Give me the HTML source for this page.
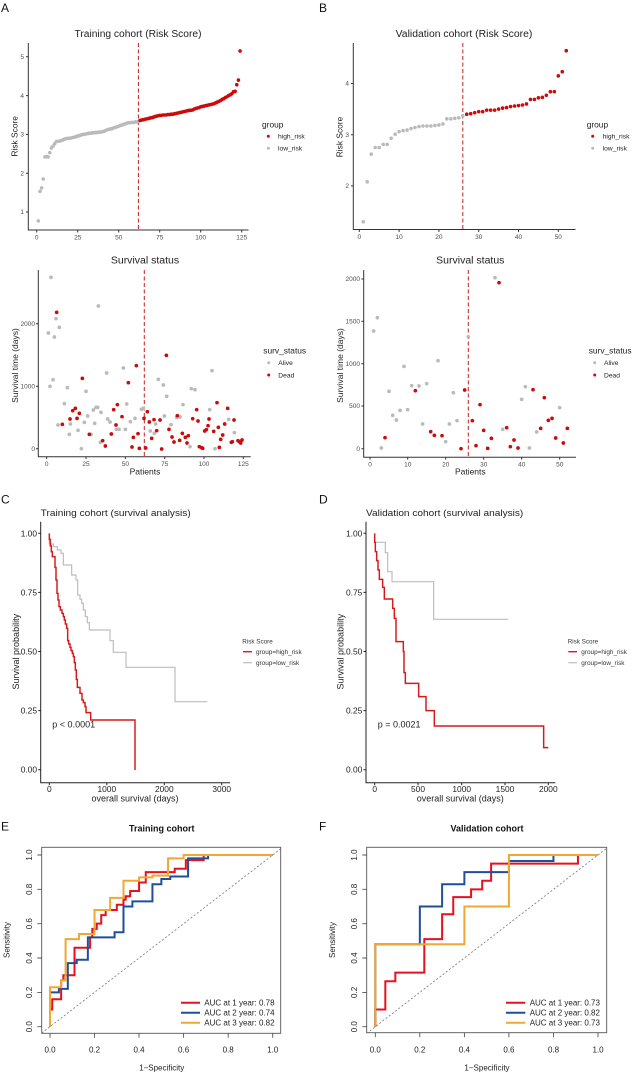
<!DOCTYPE html>
<html><head><meta charset="utf-8"><style>
html,body{margin:0;padding:0;background:#fff;}
svg{display:block;font-family:"Liberation Sans",Arial,sans-serif;}
.tk{font-size:6.5px;fill:#4d4d4d;}
.tl{font-size:8.4px;fill:#222;}
.kt{font-size:8.4px;fill:#222;}
.rt{font-size:8px;fill:#222;}
.lg{font-size:6.7px;fill:#222;}
.lab{font-size:12px;fill:#111;}
</style></head><body>
<svg width="636" height="1084" viewBox="0 0 636 1084" xmlns="http://www.w3.org/2000/svg">
<rect width="636" height="1084" fill="#fff"/>

<!-- ============ Panel A top ============ -->
<text class="lab" x="1" y="12">A</text>
<text x="138" y="37" text-anchor="middle" font-size="10" fill="#222" textLength="127" lengthAdjust="spacingAndGlyphs">Training cohort (Risk Score)</text>
<g stroke="#333" stroke-width="1" fill="none">
<path d="M28.3,43V230H248.5"/>
<path d="M26,56.8H28.3M26,95.6H28.3M26,134.4H28.3M26,173.2H28.3M26,212H28.3"/>
<path d="M36.7,230V232.5M77.7,230V232.5M118.7,230V232.5M159.7,230V232.5M200.7,230V232.5M241.7,230V232.5"/>
</g>
<g class="tk" text-anchor="end">
<text x="24" y="59">5</text><text x="24" y="97.8">4</text><text x="24" y="136.6">3</text><text x="24" y="175.4">2</text><text x="24" y="214.2">1</text>
</g>
<g class="tk" text-anchor="middle">
<text x="36.7" y="239.5">0</text><text x="77.7" y="239.5">25</text><text x="118.7" y="239.5">50</text><text x="159.7" y="239.5">75</text><text x="200.7" y="239.5">100</text><text x="241.7" y="239.5">125</text>
</g>
<text class="tl" transform="translate(17.5,136.3) rotate(-90)" text-anchor="middle" font-size="8.2">Risk Score</text>
<line x1="138.4" y1="43" x2="138.4" y2="230" stroke="#c81e1e" stroke-width="1" stroke-dasharray="4,2.5"/>
<g transform="matrix(1.64,0,0,-38.8,36.7,250.8)" fill="none" stroke-linecap="round">
<path vector-effect="non-scaling-stroke" stroke="#bababa" stroke-width="3.6" d="M1,.77h.001M2,1.53h.001M3,1.62h.001M4,1.85h.001M5,2.42h.001M6,2.43h.001M7,2.42h.001M8,2.53h.001M9,2.65h.001M10,2.70h.001M11,2.76h.001M12,2.82h.001M13,2.82h.001M14,2.83h.001M15,2.84h.001M16,2.86h.001M17,2.88h.001M18,2.89h.001M19,2.90h.001M20,2.90h.001M21,2.91h.001M22,2.92h.001M23,2.93h.001M24,2.94h.001M25,2.96h.001M26,2.97h.001M27,2.98h.001M28,3.00h.001M29,3.00h.001M30,3.01h.001M31,3.02h.001M32,3.03h.001M33,3.03h.001M34,3.04h.001M35,3.04h.001M36,3.05h.001M37,3.05h.001M38,3.06h.001M39,3.06h.001M40,3.07h.001M41,3.08h.001M42,3.10h.001M43,3.12h.001M44,3.13h.001M45,3.14h.001M46,3.15h.001M47,3.17h.001M48,3.18h.001M49,3.20h.001M50,3.21h.001M51,3.23h.001M52,3.24h.001M53,3.26h.001M54,3.27h.001M55,3.29h.001M56,3.30h.001M57,3.30h.001M58,3.31h.001M59,3.31h.001M60,3.32h.001M61,3.32h.001M62,3.33h.001"/>
<path vector-effect="non-scaling-stroke" stroke="#cc0a0a" stroke-width="3.6" d="M63,3.36h.001M64,3.37h.001M65,3.38h.001M66,3.39h.001M67,3.40h.001M68,3.41h.001M69,3.42h.001M70,3.43h.001M71,3.44h.001M72,3.46h.001M73,3.47h.001M74,3.48h.001M75,3.49h.001M76,3.49h.001M77,3.50h.001M78,3.50h.001M79,3.50h.001M80,3.51h.001M81,3.51h.001M82,3.52h.001M83,3.52h.001M84,3.53h.001M85,3.54h.001M86,3.55h.001M87,3.56h.001M88,3.57h.001M89,3.58h.001M90,3.59h.001M91,3.60h.001M92,3.61h.001M93,3.62h.001M94,3.62h.001M95,3.63h.001M96,3.65h.001M97,3.67h.001M98,3.68h.001M99,3.69h.001M100,3.71h.001M101,3.72h.001M102,3.73h.001M103,3.74h.001M104,3.75h.001M105,3.76h.001M106,3.77h.001M107,3.78h.001M108,3.79h.001M109,3.81h.001M110,3.83h.001M111,3.85h.001M112,3.87h.001M113,3.90h.001M114,3.92h.001M115,3.95h.001M116,3.97h.001M117,4.00h.001M118,4.02h.001M119,4.05h.001M120,4.10h.001M121,4.11h.001M122,4.28h.001M123,4.40h.001M124,5.15h.001"/>
</g>
<text x="262" y="127.5" font-size="8.4" fill="#222">group</text>
<circle cx="268.3" cy="136.2" r="1.5" fill="#cc0a0a"/><circle cx="268.3" cy="148.2" r="1.5" fill="#bababa"/>
<text class="lg" x="278" y="138.6">high_risk</text><text class="lg" x="278" y="150.6">low_risk</text>

<!-- ============ Panel B top ============ -->
<text class="lab" x="319" y="12">B</text>
<text x="464" y="37" text-anchor="middle" font-size="10" fill="#222" textLength="136.7" lengthAdjust="spacingAndGlyphs">Validation cohort (Risk Score)</text>
<g stroke="#333" stroke-width="1" fill="none">
<path d="M353.3,43V229.5H575.5"/>
<path d="M351,83.5H353.3M351,134.7H353.3M351,185.9H353.3"/>
<path d="M359.3,229.5V232M399.1,229.5V232M438.9,229.5V232M478.7,229.5V232M518.5,229.5V232M558.3,229.5V232"/>
</g>
<g class="tk" text-anchor="end">
<text x="349" y="85.7">4</text><text x="349" y="136.9">3</text><text x="349" y="188.1">2</text>
</g>
<g class="tk" text-anchor="middle">
<text x="359.3" y="239">0</text><text x="399.1" y="239">10</text><text x="438.9" y="239">20</text><text x="478.7" y="239">30</text><text x="518.5" y="239">40</text><text x="558.3" y="239">50</text>
</g>
<text class="tl" transform="translate(342.5,137) rotate(-90)" text-anchor="middle" font-size="8.2">Risk Score</text>
<line x1="462.8" y1="43" x2="462.8" y2="229.5" stroke="#c81e1e" stroke-width="1" stroke-dasharray="4,2.5"/>
<g transform="matrix(3.98,0,0,-51.2,359.3,288.3)" fill="none" stroke-linecap="round">
<path vector-effect="non-scaling-stroke" stroke="#bababa" stroke-width="3.6" d="M1,1.30h.001M2,2.08h.001M3,2.62h.001M4,2.75h.001M5,2.75h.001M6,2.81h.001M7,2.81h.001M8,2.93h.001M9,3.01h.001M10,3.06h.001M11,3.08h.001M12,3.09h.001M13,3.12h.001M14,3.14h.001M15,3.16h.001M16,3.17h.001M17,3.17h.001M18,3.17h.001M19,3.18h.001M20,3.19h.001M21,3.21h.001M22,3.31h.001M23,3.31h.001M24,3.32h.001M25,3.33h.001M26,3.37h.001"/>
<path vector-effect="non-scaling-stroke" stroke="#cc0a0a" stroke-width="3.6" d="M27,3.40h.001M28,3.41h.001M29,3.43h.001M30,3.45h.001M31,3.45h.001M32,3.48h.001M33,3.48h.001M34,3.48h.001M35,3.50h.001M36,3.52h.001M37,3.53h.001M38,3.55h.001M39,3.56h.001M40,3.57h.001M41,3.58h.001M42,3.60h.001M43,3.69h.001M44,3.69h.001M45,3.72h.001M46,3.73h.001M47,3.77h.001M48,3.84h.001M49,3.84h.001M50,4.15h.001M51,4.23h.001M52,4.64h.001"/>
</g>
<text x="586.7" y="127.5" font-size="8.4" fill="#222">group</text>
<circle cx="592.7" cy="136.2" r="1.5" fill="#cc0a0a"/><circle cx="592.7" cy="148.2" r="1.5" fill="#bababa"/>
<text class="lg" x="602.7" y="138.6">high_risk</text><text class="lg" x="602.7" y="150.6">low_risk</text>

<!-- ============ Panel A bottom ============ -->
<text x="145" y="263.5" text-anchor="middle" font-size="10" fill="#222" textLength="68.3" lengthAdjust="spacingAndGlyphs">Survival status</text>
<g stroke="#333" stroke-width="1" fill="none">
<path d="M38.3,270V456.7H250.7"/>
<path d="M36,448.7H38.3M36,386.2H38.3M36,323.7H38.3"/>
<path d="M46.7,456.7V459M86,456.7V459M125.4,456.7V459M164.7,456.7V459M204,456.7V459M243.3,456.7V459"/>
</g>
<g class="tk" text-anchor="end">
<text x="35" y="450.9">0</text><text x="35" y="388.4">1000</text><text x="35" y="325.9">2000</text>
</g>
<g class="tk" text-anchor="middle">
<text x="46.7" y="466">0</text><text x="86" y="466">25</text><text x="125.4" y="466">50</text><text x="164.7" y="466">75</text><text x="204" y="466">100</text><text x="243.3" y="466">125</text>
</g>
<text x="145" y="474.5" text-anchor="middle" font-size="8.5" fill="#222">Patients</text>
<text transform="translate(17.8,365.5) rotate(-90)" text-anchor="middle" font-size="8.5" fill="#222">Survival time (days)</text>
<line x1="144.3" y1="270" x2="144.3" y2="456.7" stroke="#c81e1e" stroke-width="1" stroke-dasharray="4,2.5"/>
<g transform="translate(0,240) scale(0.333333)" fill="none" stroke-linecap="round" stroke-width="11">
<path stroke="#bababa" d="M153,112h.1M145,279h.1M163,291h.1M168,236h.1M178,262h.1M150,439h.1M159,419h.1M193,491h.1M202,443h.1M174,555h.1M208,583h.1M211,552h.1M234,571h.1M244,626h.1M253,547h.1M258,454h.1M263,528h.1M273,583h.1M280,510h.1M284,550h.1M288,502h.1M293,502h.1M295,198h.1M303,517h.1M301,607h.1M320,399h.1M323,537h.1M330,546h.1M349,568h.1M357,568h.1M370,384h.1M376,568h.1M380,492h.1M391,545h.1M405,535h.1M424,508h.1M430,505h.1M451,573h.1M463,580h.1M467,552h.1M475,418h.1M490,435h.1M493,528h.1M500,469h.1M513,554h.1M530,532h.1M540,531h.1M549,494h.1M570,620h.1M574,446h.1M585,449h.1M629,509h.1M636,392h.1M645,626h.1M686,538h.1M703,578h.1"/>
<path stroke="#cc0a0a" d="M170,217h.1M187,553h.1M210,537h.1M218,512h.1M226,505h.1M231,535h.1M238,520h.1M247,415h.1M268,583h.1M308,602h.1M316,618h.1M334,582h.1M341,509h.1M348,555h.1M352,494h.1M366,530h.1M385,428h.1M396,621h.1M400,592h.1M409,377h.1M414,581h.1M418,625h.1M432,535h.1M437,624h.1M442,515h.1M448,546h.1M455,595h.1M462,539h.1M470,572h.1M480,540h.1M485,627h.1M499,346h.1M507,568h.1M516,591h.1M522,606h.1M532,527h.1M539,601h.1M547,580h.1M556,592h.1M561,609h.1M565,587h.1M578,536h.1M590,509h.1M594,543h.1M598,620h.1M605,623h.1M608,625h.1M614,573h.1M619,569h.1M624,557h.1M627,537h.1M641,574h.1M651,488h.1M655,562h.1M658,622h.1M662,598h.1M668,585h.1M674,552h.1M683,505h.1M694,607h.1M697,605h.1M702,540h.1M714,602h.1M719,606h.1M722,609h.1M726,600h.1"/>
</g>
<text x="263.3" y="353.5" font-size="8.4" fill="#222">surv_status</text>
<circle cx="268.7" cy="362.7" r="1.5" fill="#bababa"/><circle cx="268.7" cy="375" r="1.5" fill="#cc0a0a"/>
<text class="lg" x="278.3" y="365.1">Alive</text><text class="lg" x="278.3" y="377.4">Dead</text>

<!-- ============ Panel B bottom ============ -->
<text x="470.3" y="263.5" text-anchor="middle" font-size="10" fill="#222" textLength="68.3" lengthAdjust="spacingAndGlyphs">Survival status</text>
<g stroke="#333" stroke-width="1" fill="none">
<path d="M363.7,270V457.3H576"/>
<path d="M361.4,448.7H363.7M361.4,406H363.7M361.4,363.7H363.7M361.4,321.3H363.7M361.4,279H363.7"/>
<path d="M370,457.3V459.6M407.7,457.3V459.6M445.7,457.3V459.6M483.7,457.3V459.6M521.7,457.3V459.6M559.7,457.3V459.6"/>
</g>
<g class="tk" text-anchor="end">
<text x="360" y="450.9">0</text><text x="360" y="408.2">500</text><text x="360" y="365.9">1000</text><text x="360" y="323.5">1500</text><text x="360" y="281.2">2000</text>
</g>
<g class="tk" text-anchor="middle">
<text x="370" y="466.5">0</text><text x="407.7" y="466.5">10</text><text x="445.7" y="466.5">20</text><text x="483.7" y="466.5">30</text><text x="521.7" y="466.5">40</text><text x="559.7" y="466.5">50</text>
</g>
<text x="470.3" y="474.5" text-anchor="middle" font-size="8.5" fill="#222">Patients</text>
<text transform="translate(342.8,365.5) rotate(-90)" text-anchor="middle" font-size="8.5" fill="#222">Survival time (days)</text>
<line x1="468.3" y1="270" x2="468.3" y2="457.3" stroke="#c81e1e" stroke-width="1" stroke-dasharray="4,2.5"/>
<g transform="translate(316,240) scale(0.333333)" fill="none" stroke-linecap="round" stroke-width="11">
<path stroke="#bababa" d="M173,273h.1M184,233h.1M196,624h.1M219,454h.1M230,526h.1M241,540h.1M252,511h.1M264,379h.1M275,509h.1M287,437h.1M309,438h.1M320,552h.1M332,431h.1M366,362h.1M389,605h.1M400,552h.1M412,458h.1M423,542h.1M457,290h.1M537,113h.1M560,568h.1M617,478h.1M628,440h.1M640,624h.1M662,576h.1M731,503h.1"/>
<path stroke="#cc0a0a" d="M207,593h.1M298,452h.1M344,575h.1M355,586h.1M378,587h.1M435,626h.1M446,450h.1M469,542h.1M480,617h.1M492,494h.1M503,571h.1M515,625h.1M526,595h.1M549,128h.1M572,563h.1M583,620h.1M594,600h.1M606,624h.1M651,449h.1M674,565h.1M685,473h.1M697,541h.1M708,535h.1M719,594h.1M742,609h.1M754,565h.1"/>
</g>
<text x="588.7" y="353.5" font-size="8.4" fill="#222">surv_status</text>
<circle cx="594.7" cy="362.7" r="1.5" fill="#bababa"/><circle cx="594.7" cy="375" r="1.5" fill="#cc0a0a"/>
<text class="lg" x="604" y="365.1">Alive</text><text class="lg" x="604" y="377.4">Dead</text>

<!-- ============ Panel C ============ -->
<text class="lab" x="1" y="503.5">C</text>
<text x="40.7" y="516" font-size="9.3" fill="#222" textLength="150" lengthAdjust="spacingAndGlyphs">Training cohort (survival analysis)</text>
<g stroke="#222" stroke-width="1" fill="none">
<path d="M40.7,521.7V782.7H230"/>
<path d="M38.2,533.3H40.7M38.2,592.4H40.7M38.2,651.5H40.7M38.2,710.6H40.7M38.2,769.7H40.7"/>
<path d="M49.3,782.7V785.2M106.8,782.7V785.2M164.3,782.7V785.2M221.7,782.7V785.2"/>
</g>
<g class="kt" text-anchor="end">
<text x="37" y="536.3">1.00</text><text x="37" y="595.4">0.75</text><text x="37" y="654.5">0.50</text><text x="37" y="713.6">0.25</text><text x="37" y="772.7">0.00</text>
</g>
<g class="kt" text-anchor="middle">
<text x="49.3" y="792">0</text><text x="106.8" y="792">1000</text><text x="164.3" y="792">2000</text><text x="221.7" y="792">3000</text>
</g>
<text x="135" y="801.5" text-anchor="middle" font-size="9" fill="#222">overall survival (days)</text>
<text transform="translate(19,651.7) rotate(-90)" text-anchor="middle" font-size="9" fill="#222">Survival probability</text>
<g transform="translate(0,480) scale(0.333333)" fill="none">
<path stroke="#bdbdbd" stroke-width="3.6" d="M148,160V192H160V200H172V210H183V220H190V255H215V285H228V300H233V345H240V358H245V370H250V390H256V410H262V428H268V450H330V482H340V517H378V562H525V665H622"/>
<path stroke="#d7191c" stroke-width="4.4" d="M148,160V178H151V198H154V215H157V230H165V262H168V300H171V340H174V360H177V380H181V390H186V400H190V410H193V420H196V432H200V445H203V482H206V492H210V502H213V512H217V520H220V530H223V548H226V570H229V598H232V622H240V640H246V660H250V668H255V680H258V698H272V720H405V870"/>
</g>
<text x="52.3" y="727.3" font-size="9" fill="#222">p &lt; 0.0001</text>
<text x="242.3" y="643.5" font-size="6.3" fill="#333">Risk Score</text>
<line x1="243" y1="651.7" x2="252" y2="651.7" stroke="#d7191c" stroke-width="1.4"/>
<line x1="243" y1="662.7" x2="252" y2="662.7" stroke="#bdbdbd" stroke-width="1.2"/>
<text x="256" y="654" font-size="6.4" fill="#333">group=high_risk</text>
<text x="256" y="665" font-size="6.4" fill="#333">group=low_risk</text>

<!-- ============ Panel D ============ -->
<text class="lab" x="319" y="503.5">D</text>
<text x="366" y="516" font-size="9.3" fill="#222" textLength="157.3" lengthAdjust="spacingAndGlyphs">Validation cohort (survival analysis)</text>
<g stroke="#222" stroke-width="1" fill="none">
<path d="M366,521.7V782.7H555.3"/>
<path d="M363.5,533.3H366M363.5,592.4H366M363.5,651.5H366M363.5,710.6H366M363.5,769.7H366"/>
<path d="M374.7,782.7V785.2M418,782.7V785.2M461.7,782.7V785.2M505,782.7V785.2M548.3,782.7V785.2"/>
</g>
<g class="kt" text-anchor="end">
<text x="362.3" y="536.3">1.00</text><text x="362.3" y="595.4">0.75</text><text x="362.3" y="654.5">0.50</text><text x="362.3" y="713.6">0.25</text><text x="362.3" y="772.7">0.00</text>
</g>
<g class="kt" text-anchor="middle">
<text x="374.7" y="792">0</text><text x="418" y="792">500</text><text x="461.7" y="792">1000</text><text x="505" y="792">1500</text><text x="548.3" y="792">2000</text>
</g>
<text x="460.3" y="801.5" text-anchor="middle" font-size="9" fill="#222">overall survival (days)</text>
<text transform="translate(343.5,651.7) rotate(-90)" text-anchor="middle" font-size="9" fill="#222">Survival probability</text>
<g transform="translate(316,480) scale(0.333333)" fill="none">
<path stroke="#bdbdbd" stroke-width="3.6" d="M176,160V187H208V218H215V275H228V305H353V418H577"/>
<path stroke="#d7191c" stroke-width="4.4" d="M176,160V187H178V215H182V242H186V270H190V298H200V322H205V357H230V385H235V415H240V485H262V515H264V578H268V610H308V650H330V692H355V738H683V803H697"/>
</g>
<text x="377.7" y="727.3" font-size="9" fill="#222">p = 0.0021</text>
<text x="567.7" y="643.5" font-size="6.3" fill="#333">Risk Score</text>
<line x1="568.3" y1="651.7" x2="577" y2="651.7" stroke="#d7191c" stroke-width="1.4"/>
<line x1="568.3" y1="662.7" x2="577" y2="662.7" stroke="#bdbdbd" stroke-width="1.2"/>
<text x="581.3" y="654" font-size="6.4" fill="#333">group=high_risk</text>
<text x="581.3" y="665" font-size="6.4" fill="#333">group=low_risk</text>

<!-- ============ Panel E ============ -->
<text class="lab" x="1" y="830.7">E</text>
<text x="161.7" y="831.7" text-anchor="middle" font-size="9" font-weight="bold" fill="#111">Training cohort</text>
<rect x="41.7" y="847.3" width="239" height="186" fill="none" stroke="#555" stroke-width="0.9"/>
<g stroke="#555" stroke-width="0.9" fill="none">
<path d="M50,1033.3V1037.8M94.5,1033.3V1037.8M139,1033.3V1037.8M183.6,1033.3V1037.8M228.2,1033.3V1037.8M272.7,1033.3V1037.8"/>
<path d="M37.3,1026.7H41.7M37.3,992.4H41.7M37.3,958H41.7M37.3,923.7H41.7M37.3,889.3H41.7M37.3,855H41.7"/>
</g>
<g class="rt" text-anchor="middle" fill="#333">
<text x="50" y="1052.3">0.0</text><text x="94.5" y="1052.3">0.2</text><text x="139" y="1052.3">0.4</text><text x="183.6" y="1052.3">0.6</text><text x="228.2" y="1052.3">0.8</text><text x="272.7" y="1052.3">1.0</text>
<text transform="translate(32,1026.7) rotate(-90)">0.0</text><text transform="translate(32,992.4) rotate(-90)">0.2</text><text transform="translate(32,958) rotate(-90)">0.4</text><text transform="translate(32,923.7) rotate(-90)">0.6</text><text transform="translate(32,889.3) rotate(-90)">0.8</text><text transform="translate(32,855) rotate(-90)">1.0</text>
</g>
<text class="rt" x="161.7" y="1070.5" text-anchor="middle">1−Specificity</text>
<text class="rt" transform="translate(9.5,940) rotate(-90)" text-anchor="middle">Sensitivity</text>
<line x1="41.7" y1="1033.1" x2="280.7" y2="848.8" stroke="#777" stroke-width="0.8" stroke-dasharray="2,2"/>
<g transform="matrix(222.7,0,0,-171.7,50,1026.7)" fill="none" stroke-width="2">
<path vector-effect="non-scaling-stroke" stroke="#e8101e" d="M0,0V.1H.01V.16H.05V.27H.06V.3H.11V.46H.18V.52H.19V.57H.21V.6H.23V.65H.25V.68H.3V.71H.33V.74H.34V.76H.36V.79H.4V.84H.43V.9H.56V.92H.61V.97H.69V1H1"/>
<path vector-effect="non-scaling-stroke" stroke="#1f4e9a" d="M0,0V.2H.04V.22H.08V.37H.12V.39H.17V.52H.29V.55H.33V.7H.37V.73H.46V.83H.5V.86H.54V.875H.62V.98H.71V1H1"/>
<path vector-effect="non-scaling-stroke" stroke="#f0a830" d="M0,0V.23H.05V.27H.07V.51H.13V.54H.2V.68H.27V.75H.33V.85H.4V.87H.46V.88H.53V.98H.6V1H1"/>
</g>
<line x1="181" y1="1002.7" x2="200" y2="1002.7" stroke="#e8101e" stroke-width="2"/>
<line x1="181" y1="1012.7" x2="200" y2="1012.7" stroke="#1f4e9a" stroke-width="2"/>
<line x1="181" y1="1022.7" x2="200" y2="1022.7" stroke="#f0a830" stroke-width="2"/>
<text class="rt" x="204.3" y="1005.5">AUC at 1 year: 0.78</text>
<text class="rt" x="204.3" y="1015.5">AUC at 2 year: 0.74</text>
<text class="rt" x="204.3" y="1025.5">AUC at 3 year: 0.82</text>

<!-- ============ Panel F ============ -->
<text class="lab" x="319" y="830.7">F</text>
<text x="487" y="831.7" text-anchor="middle" font-size="9" font-weight="bold" fill="#111">Validation cohort</text>
<rect x="366.7" y="847.3" width="240" height="185.4" fill="none" stroke="#555" stroke-width="0.9"/>
<g stroke="#555" stroke-width="0.9" fill="none">
<path d="M375.3,1032.7V1037.2M419.8,1032.7V1037.2M464.4,1032.7V1037.2M508.9,1032.7V1037.2M553.5,1032.7V1037.2M598,1032.7V1037.2"/>
<path d="M362.3,1026.7H366.7M362.3,992.4H366.7M362.3,958H366.7M362.3,923.7H366.7M362.3,889.3H366.7M362.3,855H366.7"/>
</g>
<g class="rt" text-anchor="middle" fill="#333">
<text x="375.3" y="1052.3">0.0</text><text x="419.8" y="1052.3">0.2</text><text x="464.4" y="1052.3">0.4</text><text x="508.9" y="1052.3">0.6</text><text x="553.5" y="1052.3">0.8</text><text x="598" y="1052.3">1.0</text>
<text transform="translate(356.8,1026.7) rotate(-90)">0.0</text><text transform="translate(356.8,992.4) rotate(-90)">0.2</text><text transform="translate(356.8,958) rotate(-90)">0.4</text><text transform="translate(356.8,923.7) rotate(-90)">0.6</text><text transform="translate(356.8,889.3) rotate(-90)">0.8</text><text transform="translate(356.8,855) rotate(-90)">1.0</text>
</g>
<text class="rt" x="487" y="1070.5" text-anchor="middle">1−Specificity</text>
<text class="rt" transform="translate(335,940) rotate(-90)" text-anchor="middle">Sensitivity</text>
<line x1="366.7" y1="1033.3" x2="606.7" y2="848.3" stroke="#777" stroke-width="0.8" stroke-dasharray="2,2"/>
<g transform="matrix(222.7,0,0,-171.7,375.3,1026.7)" fill="none" stroke-width="2">
<path vector-effect="non-scaling-stroke" stroke="#e8101e" d="M0,0V.1H.045V.265H.09V.315H.22V.51H.3V.655H.35V.755H.43V.8H.48V.85H.52V.95H.91V1H1"/>
<path vector-effect="non-scaling-stroke" stroke="#1f4e9a" d="M0,0V.48H.2V.7H.3V.83H.4V.9H.6V.965H.8V1H1"/>
<path vector-effect="non-scaling-stroke" stroke="#f0a830" d="M0,0V.48H.4V.7H.6V1H1"/>
</g>
<line x1="506" y1="1002.7" x2="525.3" y2="1002.7" stroke="#e8101e" stroke-width="2"/>
<line x1="506" y1="1012.7" x2="525.3" y2="1012.7" stroke="#1f4e9a" stroke-width="2"/>
<line x1="506" y1="1022.7" x2="525.3" y2="1022.7" stroke="#f0a830" stroke-width="2"/>
<text class="rt" x="529.7" y="1005.5">AUC at 1 year: 0.73</text>
<text class="rt" x="529.7" y="1015.5">AUC at 2 year: 0.82</text>
<text class="rt" x="529.7" y="1025.5">AUC at 3 year: 0.73</text>
</svg>
</body></html>
